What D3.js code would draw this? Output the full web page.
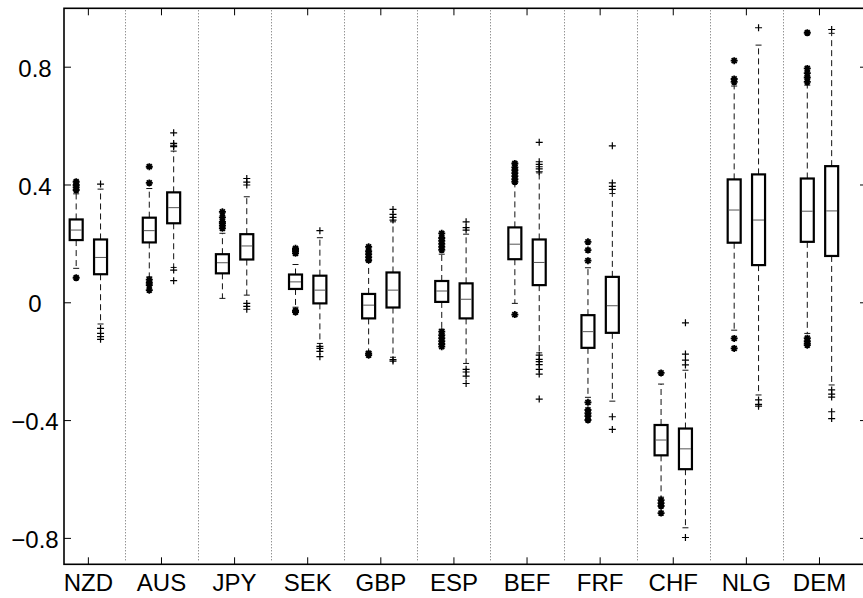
<!DOCTYPE html>
<html>
<head>
<meta charset="utf-8">
<script src="https://cdn.jsdelivr.net/npm/d3@7"></script>
<style>
  body { margin: 0; background: #fff; }
  text { font-family: "Liberation Sans", Arial, Helvetica, sans-serif; }
</style>
</head>
<body>
<div id="chart"></div>
<script>
//////////////////////////////////////////////////////////////////////////////
// Data: two boxplots per currency.
// "A" is the first box of each pair (asterisk outliers), "B" the second (plus).

var currencies = ["NZD", "AUS", "JPY", "SEK", "GBP", "ESP", "BEF", "FRF", "CHF", "NLG", "DEM"];

var loA  = [0.117, 0.088, 0.015, -0.015, -0.165, -0.09, -0.002, -0.321, -0.66, -0.093, -0.104];
var q1A  = [0.213, 0.205, 0.100, 0.047, -0.053, 0.003, 0.148, -0.153, -0.518, 0.204, 0.207];
var medA = [0.247, 0.245, 0.136, 0.071, -0.008, 0.040, 0.199, -0.098, -0.466, 0.315, 0.311];
var q3A  = [0.283, 0.289, 0.165, 0.096, 0.030, 0.074, 0.256, -0.042, -0.415, 0.419, 0.422];
var hiA  = [0.370, 0.388, 0.236, 0.130, 0.140, 0.165, 0.405, 0.119, -0.276, 0.736, 0.739];
var outA = [
  [0.085, 0.383, 0.392, 0.400, 0.411],
  [0.407, 0.462, 0.079, 0.068, 0.060, 0.043],
  [0.253, 0.262, 0.270, 0.275, 0.290, 0.309],
  [0.168, 0.175, 0.180, 0.185, -0.027, -0.032],
  [0.145, 0.155, 0.165, 0.175, 0.190, -0.172, -0.178],
  [0.180, 0.190, 0.200, 0.210, 0.220, 0.236, -0.098, -0.110, -0.120, -0.130, -0.140, -0.149],
  [0.411, 0.420, 0.430, 0.440, 0.450, 0.460, 0.473, -0.040],
  [0.143, 0.179, 0.207, -0.338, -0.364, -0.375, -0.385, -0.398],
  [-0.238, -0.670, -0.680, -0.690, -0.714],
  [0.750, 0.760, 0.822, -0.121, -0.155],
  [0.750, 0.765, 0.780, 0.796, 0.917, -0.120, -0.130, -0.138, -0.144]
];

var loB  = [-0.072, 0.120, 0.026, -0.138, -0.185, -0.206, -0.170, -0.334, -0.764, -0.313, -0.279];
var q1B  = [0.097, 0.270, 0.147, -0.002, -0.016, -0.053, 0.060, -0.102, -0.565, 0.128, 0.159];
var medB = [0.154, 0.323, 0.193, 0.043, 0.043, 0.012, 0.137, -0.010, -0.496, 0.281, 0.312];
var q3B  = [0.215, 0.375, 0.233, 0.092, 0.103, 0.066, 0.215, 0.088, -0.427, 0.436, 0.464];
var hiB  = [0.386, 0.515, 0.360, 0.221, 0.275, 0.233, 0.441, 0.371, -0.229, 0.875, 0.915];
var outB = [
  [0.403, -0.087, -0.104, -0.115, -0.124],
  [0.530, 0.535, 0.541, 0.577, 0.111, 0.075],
  [0.400, 0.410, 0.422, -0.002, -0.012, -0.022],
  [0.245, -0.148, -0.155, -0.165, -0.183],
  [0.281, 0.290, 0.300, 0.317, -0.193, -0.198],
  [0.247, 0.255, 0.275, -0.226, -0.235, -0.249, -0.274],
  [0.445, 0.455, 0.462, 0.470, 0.479, 0.545, -0.178, -0.192, -0.200, -0.210, -0.226, -0.242, -0.327],
  [0.385, 0.395, 0.407, 0.533, -0.387, -0.430],
  [-0.211, -0.195, -0.174, -0.068, -0.797],
  [0.934, -0.330, -0.345, -0.351],
  [0.928, -0.296, -0.310, -0.320, -0.370, -0.393]
];

var yTicks = [-0.8, -0.4, 0, 0.4, 0.8];

//////////////////////////////////////////////////////////////////////////////
// Layout

var width = 863, height = 598;
var plotLeft = 64, plotRight = 867, plotTop = 8.3, plotBottom = 564.3;
var boxW = 13, capW = 6, tickLen = 7;
var fontSize = 24;

// boxes sit at 1,2 then 4,5 ... separators at 3,6,...
var xScale = d3.scaleLinear().domain([0.5, 33.45]).range([plotLeft, plotRight]);
var yScale = d3.scaleLinear().domain([-0.888, 1.0]).range([plotBottom, plotTop]);

function buildBoxes(lo, q1, med, q3, hi, out, offset, marker) {
  return currencies.map(function(c, i) {
    return { pos: 3 * i + offset, lo: lo[i], q1: q1[i], med: med[i], q3: q3[i], hi: hi[i], out: out[i], marker: marker };
  });
}

var boxes = buildBoxes(loA, q1A, medA, q3A, hiA, outA, 1, "star")
  .concat(buildBoxes(loB, q1B, medB, q3B, hiB, outB, 2, "plus"));

var svg = d3.select("#chart")
  .append("svg")
  .attr("width", width)
  .attr("height", height);

// dotted separators between currency groups
svg.append("g")
  .selectAll("line")
  .data(d3.range(1, currencies.length))
  .enter()
  .append("line")
  .attr("x1", function(k) { return Math.round(xScale(3 * k)) + 0.5; })
  .attr("x2", function(k) { return Math.round(xScale(3 * k)) + 0.5; })
  .attr("y1", plotTop + 2)
  .attr("y2", plotBottom - 3)
  .attr("stroke", "#666")
  .attr("stroke-width", 1)
  .attr("stroke-dasharray", "1,2");

var g = svg.append("g")
  .selectAll("g")
  .data(boxes)
  .enter()
  .append("g")
  .attr("transform", function(d) { return "translate(" + xScale(d.pos) + ",0)"; });

// whiskers
g.append("line")
  .attr("y1", function(d) { return yScale(d.q3); })
  .attr("y2", function(d) { return yScale(d.hi); })
  .attr("stroke", "#111").attr("stroke-dasharray", "6,4");
g.append("line")
  .attr("y1", function(d) { return yScale(d.q1); })
  .attr("y2", function(d) { return yScale(d.lo); })
  .attr("stroke", "#111").attr("stroke-dasharray", "6,4");

// whisker caps
["hi", "lo"].forEach(function(k) {
  g.append("line")
    .attr("x1", -capW / 2).attr("x2", capW / 2)
    .attr("y1", function(d) { return yScale(d[k]); })
    .attr("y2", function(d) { return yScale(d[k]); })
    .attr("stroke", "#111");
});

// boxes
g.append("rect")
  .attr("x", -boxW / 2)
  .attr("y", function(d) { return yScale(d.q3); })
  .attr("width", boxW)
  .attr("height", function(d) { return yScale(d.q1) - yScale(d.q3); })
  .attr("fill", "none")
  .attr("stroke", "#000")
  .attr("stroke-width", 2.2);

// medians
g.append("line")
  .attr("x1", -boxW / 2 + 1).attr("x2", boxW / 2 - 1)
  .attr("y1", function(d) { return yScale(d.med); })
  .attr("y2", function(d) { return yScale(d.med); })
  .attr("stroke", "#555")
  .attr("stroke-width", 1);

// outliers
var starPath = "M-3.5,0H3.5M0,-3.5V3.5M-2.5,-2.5L2.5,2.5M-2.5,2.5L2.5,-2.5";
var plusPath = "M-3.5,0H3.5M0,-3.5V3.5";

g.selectAll("path")
  .data(function(d) { return d.out.map(function(v) { return { v: v, marker: d.marker }; }); })
  .enter()
  .append("path")
  .attr("transform", function(o) { return "translate(0," + yScale(o.v) + ")"; })
  .attr("d", function(o) { return o.marker === "star" ? starPath : plusPath; })
  .attr("stroke", "#000")
  .attr("stroke-width", function(o) { return o.marker === "star" ? 1.8 : 1.2; })
  .attr("fill", "none");

//////////////////////////////////////////////////////////////////////////////
// Frame, ticks and labels

svg.append("rect")
  .attr("x", plotLeft).attr("y", plotTop)
  .attr("width", plotRight - plotLeft).attr("height", plotBottom - plotTop)
  .attr("fill", "none")
  .attr("stroke", "#000")
  .attr("stroke-width", 1.6);

var groupPos = currencies.map(function(c, i) { return 3 * i + 1.5; });

var ticks = svg.append("g").attr("stroke", "#000").attr("stroke-width", 1);

ticks.selectAll(".xb").data(groupPos).enter().append("line")
  .attr("x1", function(p) { return xScale(p); }).attr("x2", function(p) { return xScale(p); })
  .attr("y1", plotBottom).attr("y2", plotBottom - tickLen);
ticks.selectAll(".xt").data(groupPos).enter().append("line")
  .attr("x1", function(p) { return xScale(p); }).attr("x2", function(p) { return xScale(p); })
  .attr("y1", plotTop).attr("y2", plotTop + tickLen);
ticks.selectAll(".yl").data(yTicks).enter().append("line")
  .attr("x1", plotLeft).attr("x2", plotLeft + tickLen)
  .attr("y1", function(v) { return yScale(v); }).attr("y2", function(v) { return yScale(v); });
ticks.selectAll(".yr").data(yTicks).enter().append("line")
  .attr("x1", plotRight).attr("x2", plotRight - tickLen)
  .attr("y1", function(v) { return yScale(v); }).attr("y2", function(v) { return yScale(v); });

// y labels are centred in the margin, as in the original
svg.append("g")
  .selectAll("text")
  .data(yTicks)
  .enter()
  .append("text")
  .attr("x", 35)
  .attr("y", function(v) { return yScale(v); })
  .attr("dy", "0.4em")
  .attr("text-anchor", "middle")
  .attr("font-size", fontSize)
  .text(function(v) { return v === 0 ? "0" : d3.format(".1f")(v).replace("-", "\u2212"); });

svg.append("g")
  .selectAll("text")
  .data(currencies)
  .enter()
  .append("text")
  .attr("x", function(c, i) { return xScale(groupPos[i]); })
  .attr("y", plotBottom + 27)
  .attr("text-anchor", "middle")
  .attr("font-size", fontSize)
  .text(function(c) { return c; });
</script>
</body>
</html>
